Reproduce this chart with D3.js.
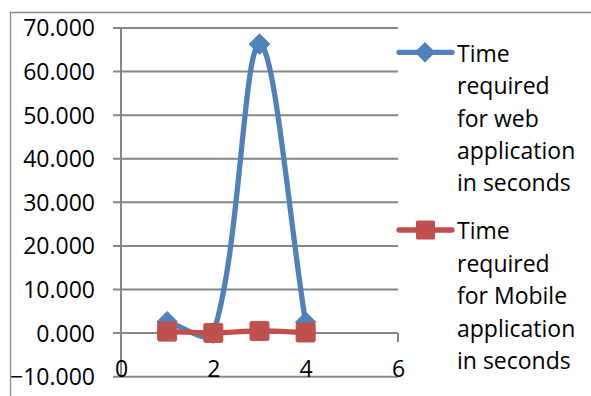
<!DOCTYPE html>
<html>
<head>
<meta charset="utf-8">
<script src="https://cdn.jsdelivr.net/npm/d3@7/dist/d3.min.js"></script>
<style>
  html, body { margin: 0; padding: 0; background: #fff; }
  svg { display: block; }
  text { font-family: "Open Sans", sans-serif; fill: #000; }
</style>
</head>
<body>
<svg id="chart" width="591" height="396"></svg>
<script>
// ---- data ----
const xValues = [1, 2, 3, 4];
const webTimes = [2.6, 0.0, 66.3, 2.5];
const mobileTimes = [0.35, 0.05, 0.5, 0.15];
const seriesNames = [
  ["Time", "required", "for web", "application", "in seconds"],
  ["Time", "required", "for Mobile", "application", "in seconds"]
];
const seriesColors = ["#4F81BD", "#C0504D"];
const yTicks = [-10, 0, 10, 20, 30, 40, 50, 60, 70];
const xTicks = [0, 2, 4, 6];

// ---- layout ----
const svg = d3.select("#chart");
const W = 591, H = 396;
const plot = { left: 121, right: 398, top: 28, bottom: 376.7 };
const x = d3.scaleLinear().domain([0, 6]).range([plot.left, plot.right]);
const y = d3.scaleLinear().domain([-10, 70]).range([plot.bottom, plot.top]);
const gridColor = "#868686";

// outer border
svg.append("path")
  .attr("d", `M10.5,${H + 2} L10.5,12.5 L${W + 2},12.5`)
  .attr("fill", "none").attr("stroke", "#8c8c8c").attr("stroke-width", 1.3);

// gridlines + y ticks
const gy = svg.append("g");
gy.selectAll("line.grid").data(yTicks).join("line")
  .attr("class", "grid")
  .attr("x1", plot.left - 8).attr("x2", plot.right)
  .attr("y1", d => y(d)).attr("y2", d => y(d))
  .attr("stroke", gridColor).attr("stroke-width", 2);
gy.selectAll("text").data(yTicks).join("text")
  .attr("x", 95).attr("y", d => y(d) + 8.4)
  .attr("text-anchor", "end")
  .attr("font-size", 23)
  .text(d => d3.format(".3f")(d));

// y axis line
svg.append("line")
  .attr("x1", plot.left).attr("x2", plot.left)
  .attr("y1", plot.top).attr("y2", plot.bottom)
  .attr("stroke", gridColor).attr("stroke-width", 2);

// x axis at y=0 with ticks
const gx = svg.append("g");
gx.selectAll("line").data(xTicks).join("line")
  .attr("x1", d => x(d)).attr("x2", d => x(d))
  .attr("y1", y(0)).attr("y2", y(0) + 9)
  .attr("stroke", gridColor).attr("stroke-width", 2);
gx.selectAll("text").data(xTicks).join("text")
  .attr("x", d => x(d) + 0.5).attr("y", 376.5)
  .attr("text-anchor", "middle")
  .attr("font-size", 23)
  .text(d => d);

// Excel-style smoothed line (Bezier with chord-length weighted tangents)
function smoothPath(pts) {
  const p = d3.path();
  const P = pts.map(d => [x(d[0]), y(d[1])]);
  const dist = (a, b) => Math.hypot(b[0] - a[0], b[1] - a[1]);
  p.moveTo(P[0][0], P[0][1]);
  for (let i = 0; i < P.length - 1; i++) {
    const p0 = P[Math.max(0, i - 1)], p1 = P[i], p2 = P[i + 1], p3 = P[Math.min(P.length - 1, i + 2)];
    const d01 = dist(p0, p1), d12 = dist(p1, p2), d23 = dist(p2, p3);
    const f1 = d12 / (d01 + d12) / 3;
    const f2 = d12 / (d12 + d23) / 3;
    const c1 = [p1[0] + (p2[0] - p0[0]) * f1, p1[1] + (p2[1] - p0[1]) * f1];
    const c2 = [p2[0] - (p3[0] - p1[0]) * f2, p2[1] - (p3[1] - p1[1]) * f2];
    p.bezierCurveTo(c1[0], c1[1], c2[0], c2[1], p2[0], p2[1]);
  }
  return p.toString();
}

const series = [webTimes, mobileTimes];
const diamond = (cx, cy, r) => `M${cx},${cy - r}L${cx + r},${cy}L${cx},${cy + r}L${cx - r},${cy}Z`;

series.forEach((vals, i) => {
  const pts = xValues.map((xv, j) => [xv, vals[j]]);
  const g = svg.append("g");
  g.append("path").attr("d", smoothPath(pts))
    .attr("fill", "none").attr("stroke", seriesColors[i])
    .attr("stroke-width", 5.3).attr("stroke-linejoin", "round").attr("stroke-linecap", "round");
  if (i === 0) {
    g.selectAll("path.m").data(pts).join("path").attr("class", "m")
      .attr("d", d => diamond(x(d[0]), y(d[1]), 10.3))
      .attr("fill", seriesColors[i]).attr("stroke", seriesColors[i]).attr("stroke-width", 1);
  } else {
    g.selectAll("rect.m").data(pts).join("rect").attr("class", "m")
      .attr("x", d => x(d[0]) - 9.5).attr("y", d => y(d[1]) - 9.5)
      .attr("width", 19).attr("height", 19).attr("rx", 1.5)
      .attr("fill", seriesColors[i]).attr("stroke", seriesColors[i]).attr("stroke-width", 1);
  }
});

// legend
const legendTop = [52.3, 230];
seriesNames.forEach((lines, i) => {
  const g = svg.append("g");
  const ly = legendTop[i];
  g.append("line").attr("x1", 399).attr("x2", 452).attr("y1", ly).attr("y2", ly)
    .attr("stroke", seriesColors[i]).attr("stroke-width", 5.3).attr("stroke-linecap", "round");
  if (i === 0) {
    g.append("path").attr("d", diamond(425, ly, 10.3)).attr("fill", seriesColors[i]);
  } else {
    g.append("rect").attr("x", 416).attr("y", ly - 9.5).attr("width", 19).attr("height", 19)
      .attr("rx", 1.5).attr("fill", seriesColors[i]);
  }
  g.selectAll("text").data(lines).join("text")
    .attr("x", 457).attr("y", (d, k) => ly + 9.4 + k * 32.4)
    .attr("font-size", 23)
    .text(d => d);
});
</script>
</body>
</html>
